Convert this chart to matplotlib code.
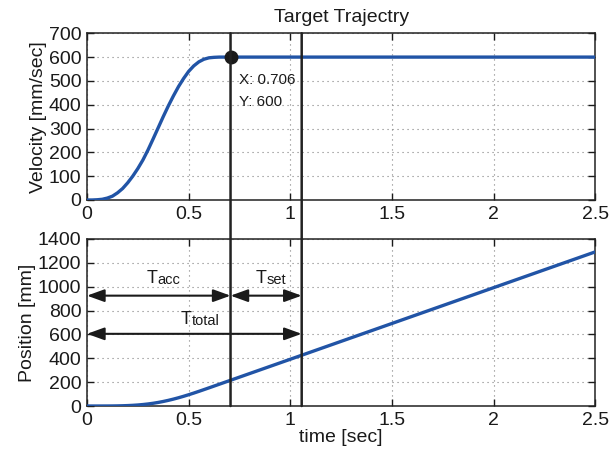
import matplotlib
matplotlib.use("Agg")
import matplotlib.pyplot as plt
from matplotlib.patches import ConnectionPatch

plt.rcParams['font.family'] = ['Liberation Sans', 'DejaVu Sans']

# target trajectory samples
time_s = [0, 0.025, 0.05, 0.075, 0.1, 0.125, 0.15, 0.175, 0.2, 0.225, 0.25,
          0.275, 0.3, 0.325, 0.35, 0.375, 0.4, 0.425, 0.45, 0.475, 0.5,
          0.525, 0.55, 0.575, 0.6, 0.625, 0.65, 0.675, 0.706, 1.0, 1.5, 2.0, 2.5]
velocity = [0, 0, 1, 3, 8, 16, 30, 48, 72, 100, 132, 168, 210, 256, 303,
            350, 395, 437, 476, 510, 540, 563, 580, 591, 597, 599, 600, 600,
            600, 600, 600, 600, 600]
position = [0, 0, 0, 0.1, 0.2, 0.5, 1.1, 2.1, 3.6, 5.7, 8.6, 12.4, 17.1,
            22.9, 29.9, 38.1, 47.4, 57.8, 69.2, 81.5, 94.6, 108.4, 122.7,
            137.4, 152.2, 167.2, 182.2, 197.2, 215.8, 392, 692, 992, 1292]

t_acc = 0.706
t_total = 1.056
tip_x, tip_y = 0.706, 600

line_blue = '#2154a6'
ink = '#1a1a1a'

fig = plt.figure(figsize=(6.14, 4.54), dpi=100)
ax1 = fig.add_axes([0.1417, 0.5595, 0.8278, 0.3672])
ax2 = fig.add_axes([0.1417, 0.1057, 0.8278, 0.3679])

for ax in (ax1, ax2):
    ax.set_xlim(0, 2.5)
    ax.set_xticks([0, 0.5, 1, 1.5, 2, 2.5])
    ax.set_xticklabels(['0', '0.5', '1', '1.5', '2', '2.5'])
    ax.grid(True, linestyle=(0, (1, 3.5)), color='#808080', linewidth=0.8)
    ax.tick_params(direction='in', top=True, right=True, length=5,
                   width=1, labelsize=14, pad=4, colors=ink)
    for s in ax.spines.values():
        s.set_linewidth(1.1)
        s.set_color('#222222')

ax1.plot(time_s, velocity, color=line_blue, lw=2.4, zorder=3)
ax1.set_ylim(0, 700)
ax1.set_yticks(range(0, 701, 100))
ax1.set_ylabel('Velocity [mm/sec]', fontsize=14, labelpad=1, color=ink)
ax1.set_title('Target Trajectry', fontsize=14, pad=8, color=ink)

# data tip
ax1.plot([tip_x], [tip_y], 'o', color=ink, markersize=9, zorder=5)
ax1.text(0.75, 487, 'X: %.3f' % tip_x, fontsize=11, va='baseline', color=ink)
ax1.text(0.75, 394, 'Y: %d' % tip_y, fontsize=11, va='baseline', color=ink)

ax2.plot(time_s, position, color=line_blue, lw=2.4, zorder=3)
ax2.set_ylim(0, 1400)
ax2.set_yticks(range(0, 1401, 200))
ax2.set_ylabel('Position [mm]', fontsize=14, labelpad=1, color=ink)
ax2.set_xlabel('time [sec]', fontsize=14, labelpad=0, color=ink)

# vertical markers running through both panels
for xv in (t_acc, t_total):
    con = ConnectionPatch(xyA=(xv, 700), coordsA=ax1.transData,
                          xyB=(xv, 0), coordsB=ax2.transData,
                          color='#222222', lw=1.8, zorder=6)
    fig.add_artist(con)

arrow = dict(arrowstyle='<|-|>,head_length=1.05,head_width=0.38',
             color=ink, lw=1.5, shrinkA=0, shrinkB=0)
ax2.annotate('', xy=(0, 925), xytext=(t_acc, 925), arrowprops=arrow)
ax2.annotate('', xy=(t_acc, 925), xytext=(t_total, 925), arrowprops=arrow)
ax2.annotate('', xy=(0, 605), xytext=(t_total, 605), arrowprops=arrow)

# interval labels: big "T" followed by a smaller suffix on the same baseline
for xt, yt, sub in [(0.346, 1034, 'acc'), (0.885, 1034, 'set'),
                    (0.516, 687, 'total')]:
    ax2.text(xt, yt, 'T', fontsize=13, ha='right', va='baseline', color=ink)
    ax2.text(xt, yt - 10, sub, fontsize=10.5, ha='left', va='baseline',
             color=ink)

fig.savefig('out.png', dpi=100)
